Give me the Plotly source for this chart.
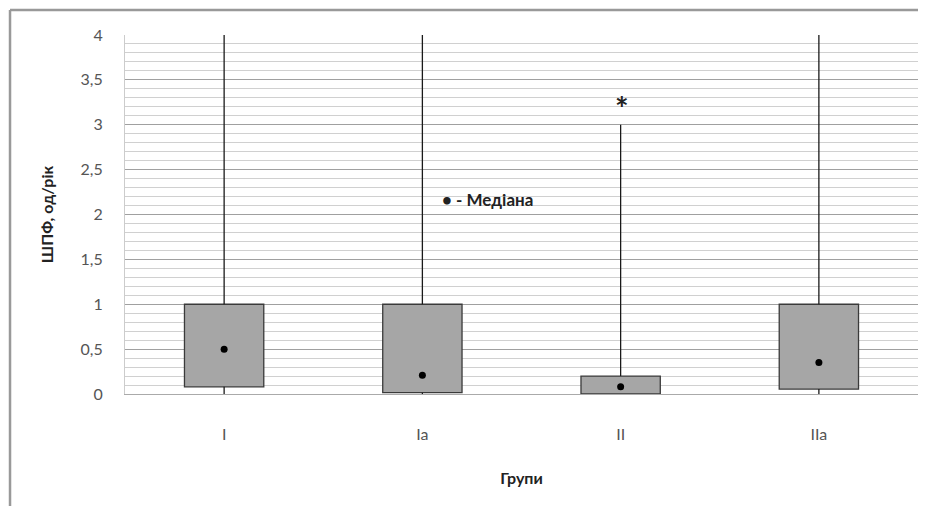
import plotly.graph_objects as go

groups = ["I", "Ia", "II", "IIa"]
q1 = [0.08, 0.015, 0.0, 0.055]
q3 = [1.0, 1.0, 0.2, 1.0]
medians = [0.5, 0.21, 0.08, 0.35]
w_min = [0.0, 0.0, 0.0, 0.0]
w_max = [4.0, 4.0, 3.0, 4.0]

y_ticks = [0, 0.5, 1, 1.5, 2, 2.5, 3, 3.5, 4]
y_tick_labels = ["0", "0,5", "1", "1,5", "2", "2,5", "3", "3,5", "4"]

star_group = "II"
star_y = 3.24
legend_x = "Ia"
legend_y = 2.17

font_family = "Lato, 'Open Sans', sans-serif"

fig = go.Figure()

# whiskers
wx, wy = [], []
for g, lo, b, t, hi in zip(groups, w_min, q1, q3, w_max):
    wx += [g, g, None, g, g, None]
    wy += [hi, t, None, b, lo, None]
fig.add_trace(go.Scatter(x=wx, y=wy, mode="lines",
                         line=dict(color="#1a1a1a", width=1.3),
                         hoverinfo="skip", showlegend=False))

# boxes
fig.add_trace(go.Bar(x=groups, y=[t - b for t, b in zip(q3, q1)], base=q1,
                     width=0.4,
                     marker=dict(color="#a6a6a6", line=dict(color="#3a3a3a", width=1.3)),
                     showlegend=False))

# medians
fig.add_trace(go.Scatter(x=groups, y=medians, mode="markers",
                         marker=dict(color="black", size=7),
                         showlegend=False))

# star annotation
fig.add_annotation(x=star_group, y=star_y, text="<b>*</b>", showarrow=False,
                   font=dict(size=32, color="#222", family=font_family),
                   xshift=1, yshift=-5)

# legend note
fig.add_annotation(x=legend_x, y=legend_y, text="<b>• - Медіана</b>", showarrow=False,
                   xanchor="left", xshift=18,
                   font=dict(size=17, color="#222", family=font_family))

# outer frame (cropped chart border)
fig.add_shape(type="line", xref="paper", yref="paper",
              x0=-0.145, x1=1.03, y0=1.0696, y1=1.0696,
              line=dict(color="#999999", width=2.5))
fig.add_shape(type="line", xref="paper", yref="paper",
              x0=-0.145, x1=-0.145, y0=1.0696, y1=-0.35,
              line=dict(color="#999999", width=2.5))

fig.update_layout(
    width=918, height=498,
    margin=dict(l=117, r=8, t=27, b=112),
    paper_bgcolor="white", plot_bgcolor="white",
    font=dict(family=font_family, color="#444"),
    xaxis=dict(
        type="category", categoryorder="array", categoryarray=groups,
        showgrid=False, showline=True, linecolor="#aaaaaa", linewidth=1,
        ticks="", tickfont=dict(size=16, color="#555"),
        ticklabelstandoff=26,
        title=dict(text="<b>Групи</b>", font=dict(size=16, color="#222"), standoff=30),
        range=[-0.5, 3.5],
    ),
    yaxis=dict(
        range=[0, 4], tickvals=y_ticks, ticktext=y_tick_labels,
        showgrid=True, gridcolor="#a0a0a0", gridwidth=1,
        minor=dict(dtick=0.1, showgrid=True, gridcolor="#d0d0d0", gridwidth=1),
        showline=True, linecolor="#cccccc", linewidth=1,
        zeroline=False, ticks="",
        ticklabelstandoff=18,
        tickfont=dict(size=16, color="#555"),
        title=dict(text="<b>ШПФ, од/рік</b>", font=dict(size=16, color="#222"), standoff=22),
    ),
)

fig.write_html("out.html")
